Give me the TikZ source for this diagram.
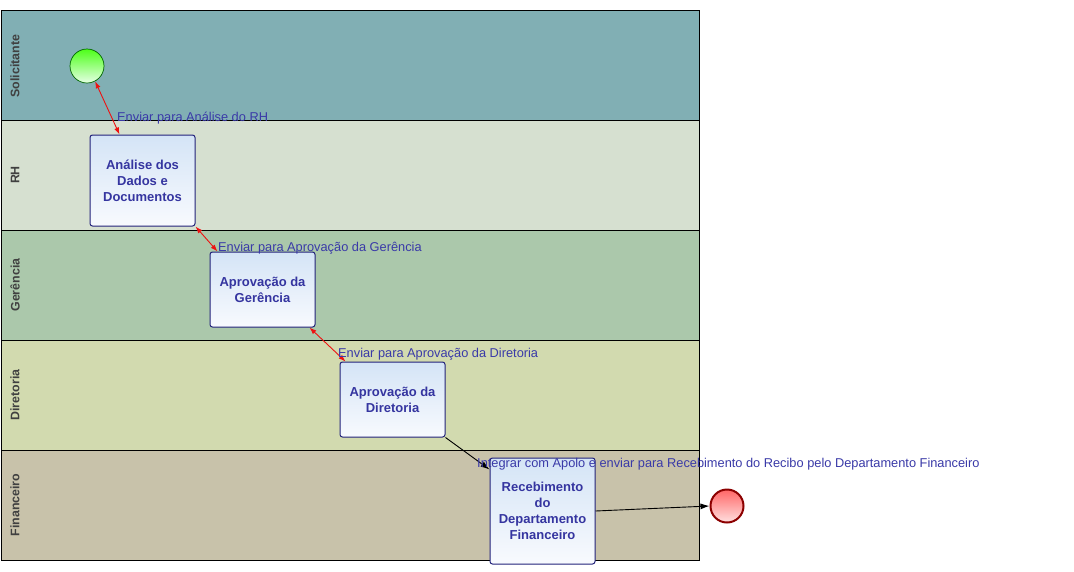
\documentclass[tikz,border=0pt]{standalone}
\usepackage{fontspec}
\setmainfont{Liberation Sans}
\usetikzlibrary{arrows.meta,calc}
\definecolor{laneA}{HTML}{81AFB4}
\definecolor{laneB}{HTML}{D6E0D0}
\definecolor{laneC}{HTML}{ABC8AB}
\definecolor{laneD}{HTML}{D2DAAF}
\definecolor{laneE}{HTML}{C8C2AA}
\definecolor{taskTop}{HTML}{D4E4F6}
\definecolor{taskBot}{HTML}{F8FAFE}
\definecolor{taskBorder}{HTML}{22227A}
\definecolor{taskText}{HTML}{3535A0}
\definecolor{lblText}{HTML}{3A3AA8}
\definecolor{laneText}{HTML}{404040}
\definecolor{flowRed}{HTML}{EE1111}
\tikzset{
  lane/.style={draw=black, line width=1pt},
  lanelabel/.style={rotate=90, font=\fontsize{12.4}{14}\selectfont\bfseries, text=laneText},
  task/.style={draw=taskBorder, line width=1pt, rounded corners=2.5pt, top color=taskTop, bottom color=taskBot,
    minimum width=105pt, align=center, text=taskText, font=\fontsize{13}{16}\selectfont\bfseries, inner sep=0pt},
  startev/.style={circle, draw=green!40!black, line width=0.7pt, top color=green!70!lime!90, bottom color=green!10, minimum size=34pt, inner sep=0pt},
  endev/.style={circle, draw=red!55!black, line width=2pt, top color=red!60, bottom color=red!12, minimum size=33pt, inner sep=0pt},
  flowlabel/.style={anchor=west, text=lblText, font=\fontsize{12.8}{14}\selectfont, inner sep=0pt},
  redflow/.style={draw=flowRed, line width=0.9pt, {Latex[length=7pt,width=5pt]}-{Latex[length=7pt,width=5pt]}},
  blackflow/.style={draw=black, line width=0.9pt, -{Latex[length=9pt,width=6pt]}}
}
\begin{document}
\begin{tikzpicture}[x=1pt,y=-1pt]
\useasboundingbox (0,0) rectangle (1074,571);
\fill[white] (0,0) rectangle (1074,571);
% lanes
\draw[lane, fill=laneA] (1,10) rectangle (699,120);
\draw[lane, fill=laneB] (1,120) rectangle (699,230);
\draw[lane, fill=laneC] (1,230) rectangle (699,340);
\draw[lane, fill=laneD] (1,340) rectangle (699,450);
\draw[lane, fill=laneE] (1,450) rectangle (699,560);
\node[lanelabel] (l1) at (15,66) {Solicitante};
\node[lanelabel] (l2) at (15,175) {RH};
\node[lanelabel] (l3) at (15,285) {Gerência};
\node[lanelabel] (l4) at (15,395) {Diretoria};
\node[lanelabel] (l5) at (15,505) {Financeiro};
% events
\node[startev] (s) at (87,66) {};
\node[endev] (e) at (727,506) {};
% tasks
\node[task, minimum height=91pt] (t1) at (142.5,180.5) {Análise dos\\Dados e\\Documentos};
\node[task, minimum height=75pt] (t2) at (262.5,289.5) {Aprovação da\\Gerência};
\node[task, minimum height=75pt] (t3) at (392.5,399.5) {Aprovação da\\Diretoria};
\node[task, minimum height=106pt] (t4) at (542.5,511) {Recebimento\\do\\Departamento\\Financeiro};
% flows
\draw[redflow] (s.-62) -- ($(t1.north west)+(30,0)$);
\draw[redflow] (t1.south east) -- ($(t2.north west)+(8,0)$);
\draw[redflow] ($(t2.south east)+(-6,0)$) -- ($(t3.north west)+(6,0)$);
\draw[blackflow] (t3.south east) -- ($(t4.north west)+(0,12)$);
\draw[blackflow] (t4.east) -- (e.west);
% labels
\node[flowlabel] (f1) at (117,118.5) {Enviar para Análise do RH};
\node[flowlabel] (f2) at (218,248.5) {Enviar para Aprovação da Gerência};
\node[flowlabel] (f3) at (338,354.5) {Enviar para Aprovação da Diretoria};
\node[flowlabel] (f4) at (477,464.5) {Integrar com Apolo e enviar para Recebimento do Recibo pelo Departamento Financeiro};
\end{tikzpicture}
\end{document}
